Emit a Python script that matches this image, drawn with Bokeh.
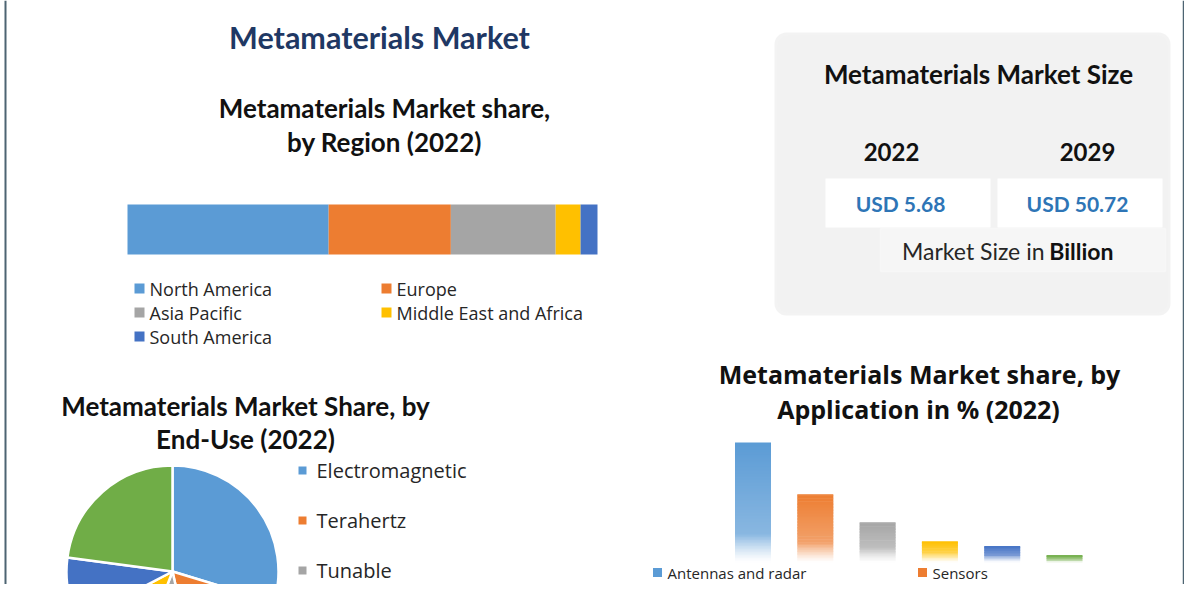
from bokeh.plotting import figure
from bokeh.models import Range1d, BoxAnnotation, Span
from bokeh.core.properties import value
from bokeh.embed import file_html
from bokeh.resources import INLINE
import numpy as np

# ---------------- data ----------------
main_title = "Metamaterials Market"

region_title = ["Metamaterials Market share,", "by Region (2022)"]
region_names = ["North America", "Europe", "Asia Pacific", "Middle East and Africa", "South America"]
region_share = [42.8, 26.0, 22.3, 5.3, 3.6]
region_colors = ["#5B9BD5", "#ED7D31", "#A5A5A5", "#FFC000", "#4472C4"]

size_title = "Metamaterials Market Size"
size_years = ["2022", "2029"]
size_values = ["USD 5.68", "USD 50.72"]
size_unit = ["Market Size in", "Billion"]

end_use_title = ["Metamaterials Market Share, by", "End-Use (2022)"]
end_use_labels = ["Electromagnetic", "Terahertz", "Tunable"]
end_use_share = [29.7, 16.8, 9.3, 11.5, 9.8, 22.9]
end_use_colors = ["#5B9BD5", "#ED7D31", "#A5A5A5", "#FFC000", "#4472C4", "#70AD47"]

app_title = ["Metamaterials Market share, by", "Application in % (2022)"]
app_labels = ["Antennas and radar", "Sensors"]
app_share = [43.8, 24.9, 14.7, 7.8, 6.0, 2.7]
app_colors = ["#5B9BD5", "#ED7D31", "#A5A5A5", "#FFC000", "#4472C4", "#70AD47"]

# ---------------- picture geometry (pixels of the picture) ----------------
W, H = 1184, 584
FX0, FX1 = 0, W        # frame x
FY0, FY1 = H, 0        # frame bottom / top


def rng(d0, p0, d1, p1, f_start, f_end):
    k = (d1 - d0) / (p1 - p0)
    return Range1d(d0 + (f_start - p0) * k, d0 + (f_end - p0) * k)


p = figure(width=W, height=H, x_range=Range1d(FX0, FX1), y_range=Range1d(-FY0, -FY1),
           output_backend="svg", toolbar_location=None,
           x_axis_location=None, y_axis_location=None, min_border=0)
p.outline_line_color = None
p.background_fill_color = "white"
p.border_fill_color = "white"
p.xgrid.visible = False
p.ygrid.visible = False

app_top_px = 442
app_base_px = 562
p.extra_x_ranges = {
    "reg": rng(0, 127, 100, 597, FX0, FX1),
    "app": rng(0, 752.5, 5, 1064, FX0, FX1),
    "pie": rng(-1, 66, 1, 278, FX0, FX1),
}
p.extra_y_ranges = {
    "reg": rng(0, 254, 1, 204, FY0, FY1),
    "app": rng(0, app_base_px, app_share[0], app_top_px, FY0, FY1),
    "pie": rng(-1, 677, 1, 465, FY0, FY1),
}

TITLE_FONT = value("Lato")
BODY_FONT = value("Open Sans")


def txt(x, y, t, size, bold=True, color="#111111", align="center", font=TITLE_FONT):
    p.text(x=[x], y=[-y], text=[t], text_font=font, text_font_size=f"{size}px",
           text_font_style="bold" if bold else "normal", text_color=color,
           text_align=align, text_baseline="middle")


def box(l, r, t, b, color, radius=0, line=None, alpha=1.0):
    p.add_layout(BoxAnnotation(left=l, right=r, top=-t, bottom=-b, fill_color=color,
                               fill_alpha=alpha, line_color=line, line_width=1.5,
                               border_radius=radius, level="underlay"))


# frame side lines
p.add_layout(Span(location=5, dimension="height", line_color="#4d6472", line_width=2))
p.add_layout(Span(location=1183, dimension="height", line_color="#4d6472", line_width=1.5))

# ---------------- main title ----------------
txt(379, 36, main_title, 30.5, color="#1F3864")

# ---------------- region stacked bar ----------------
txt(384, 107, region_title[0], 26)
txt(384, 141, region_title[1], 26)
cum = np.concatenate([[0], np.cumsum(region_share)])
p.hbar(y=0.5, left=cum[:-1], right=cum[1:], height=1, fill_color=region_colors,
       line_color=None, x_range_name="reg", y_range_name="reg")
for i, name in enumerate(region_names):
    row, col = divmod(i, 2)
    sx = 139 + col * 247
    sy = 288 + row * 24
    p.rect(x=[sx], y=[-sy], width=10, height=10, fill_color=region_colors[i], line_color=None)
    txt(sx + 10, sy, name, 18, bold=False, color="#262626", align="left", font=BODY_FONT)

# ---------------- market size box ----------------
box(774, 1170, 32, 315, "#ebebeb", radius=12, alpha=0.6)
box(777, 1167, 35, 312, "#f2f2f2", radius=10)
txt(978, 73, size_title, 26)
year_x = [891, 1087]
val_x = [900, 1077]
box_lr = [(825, 990), (997, 1162)]
for i in range(2):
    box(box_lr[i][0], box_lr[i][1], 178, 227, "white")
    txt(year_x[i], 151, size_years[i], 24)
    txt(val_x[i], 203, size_values[i], 21, color="#2E75B6")
box(880, 1165, 228, 271, "#f6f6f6", line="#ffffff")
txt(1044, 250, size_unit[0], 23, bold=False, color="#262626", align="right")
txt(1113, 250, size_unit[1], 23, bold=True, color="#111111", align="right")

# ---------------- end-use pie ----------------
txt(245, 405, end_use_title[0], 26)
txt(245, 438, end_use_title[1], 26)
fr = np.array(end_use_share) / sum(end_use_share)
c = np.concatenate([[0], np.cumsum(fr)])
start = np.pi / 2 - c[:-1] * 2 * np.pi
end = np.pi / 2 - c[1:] * 2 * np.pi
p.wedge(x=0, y=0, radius=1, start_angle=start, end_angle=end, direction="clock",
        fill_color=end_use_colors, line_color="white", line_width=2.5,
        x_range_name="pie", y_range_name="pie")
for i, lab in enumerate(end_use_labels):
    ly = 470 + i * 50
    p.rect(x=[302], y=[-ly], width=8, height=8, fill_color=end_use_colors[i], line_color=None)
    txt(316, ly, lab, 20, bold=False, color="#262626", align="left", font=BODY_FONT)

# ---------------- application bars (fading) ----------------
txt(919, 373, app_title[0], 25, font=BODY_FONT)
txt(918, 408, app_title[1], 25, font=BODY_FONT)


def blend(hexc, a):
    r, g, b = int(hexc[1:3], 16), int(hexc[3:5], 16), int(hexc[5:7], 16)
    r = round(r * a + 255 * (1 - a)); g = round(g * a + 255 * (1 - a)); b = round(b * a + 255 * (1 - a))
    return "#%02x%02x%02x" % (r, g, b)


kpx = (app_base_px - app_top_px) / app_share[0]   # pixels per percent
L, R, B, T, C = [], [], [], [], []
bw = 0.578
for i, v in enumerate(app_share):
    h = v * kpx
    fade = min(0.45 * h, 8 + 0.17 * h)
    n = max(int(h / 1.5), 4)
    edges = np.linspace(0, h, n + 1)
    for j in range(n):
        d = (edges[j] + edges[j + 1]) / 2
        if d >= fade:
            a = 0.72 + 0.28 * (d - fade) / max(h - fade, 1e-6)
        else:
            a = 0.72 * (d / fade) ** 1.3
        L.append(i - bw / 2); R.append(i + bw / 2)
        B.append(edges[j] / kpx); T.append(min(edges[j + 1] + 0.6, h) / kpx)
        C.append(blend(app_colors[i], a))
p.quad(left=L, right=R, bottom=B, top=T, fill_color=C, line_color=None,
       x_range_name="app", y_range_name="app")
leg_x = [657, 922]
for i, lab in enumerate(app_labels):
    p.rect(x=[leg_x[i]], y=[-572], width=9, height=9, fill_color=app_colors[i], line_color=None)
    txt(leg_x[i] + 10, 572, lab, 15, bold=False, color="#262626", align="left", font=BODY_FONT)

open("out.html", "w").write(file_html(p, INLINE))
